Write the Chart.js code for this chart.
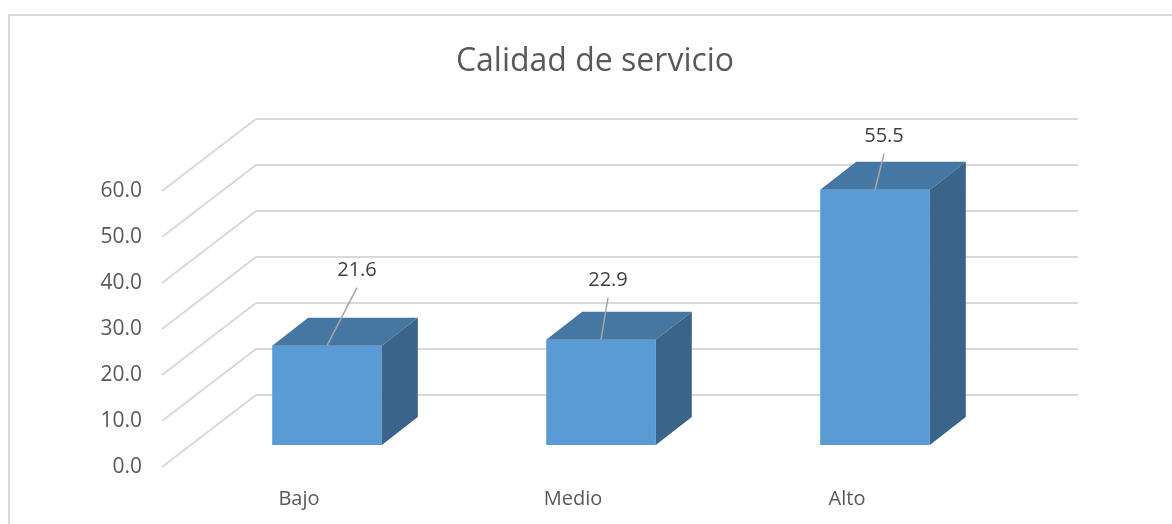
<!DOCTYPE html>
<html>
<head>
<meta charset="utf-8">
<script src="https://cdn.jsdelivr.net/npm/chart.js@4"></script>
<style>
  html, body { margin: 0; padding: 0; background: #ffffff; }
  #wrap { width: 1172px; height: 524px; position: relative; }
</style>
</head>
<body>
<div id="wrap"><canvas id="c" width="1172" height="524"></canvas></div>
<script>
// ---- data ----
const categories = ['Bajo', 'Medio', 'Alto'];
const values = [21.6, 22.9, 55.5];
const yTickValues = [0, 10, 20, 30, 40, 50, 60];
const chartTitle = 'Calidad de servicio';

// ---- 3D look (styles, not data) ----
const FONT = '"Open Sans", "DejaVu Sans", sans-serif';
const depth3d = {
  id: 'depth3d',
  afterLayout(chart, args, o) {
    const t = chart.titleBlock;
    if (t) {
      t.left = chart.chartArea.left - o.titleLeftExtra;
      t.right = chart.chartArea.right;
      t.width = t.right - t.left;
    }
  },
  beforeDraw(chart, args, o) {
    const ctx = chart.ctx;
    ctx.save();
    ctx.strokeStyle = o.frameColor;
    ctx.lineWidth = 2;
    ctx.beginPath();
    ctx.moveTo(9, chart.height);
    ctx.lineTo(9, 15);
    ctx.lineTo(chart.width, 15);
    ctx.stroke();
    ctx.restore();
  },
  beforeDatasetsDraw(chart, args, o) {
    const { ctx, chartArea, scales } = chart;
    const y = scales.y;
    ctx.save();
    ctx.strokeStyle = o.gridColor;
    ctx.lineWidth = 2;
    y.ticks.forEach(t => {
      const py = y.getPixelForValue(t.value);
      ctx.beginPath();
      ctx.moveTo(chartArea.left - o.front.dx, py + o.front.dy);
      ctx.lineTo(chartArea.left + o.back.dx, py - o.back.dy);
      ctx.lineTo(chartArea.right + o.back.dx, py - o.back.dy);
      ctx.stroke();
    });
    ctx.restore();
  },
  afterDatasetsDraw(chart, args, o) {
    const ctx = chart.ctx;
    const meta = chart.getDatasetMeta(0);
    const data = chart.data.datasets[0].data;
    ctx.save();
    meta.data.forEach((bar, i) => {
      const p = bar.getProps(['x', 'y', 'base', 'width'], true);
      const l = p.x - p.width / 2, r = p.x + p.width / 2;
      const dx = o.bar.dx, dy = o.bar.dy;
      // top face
      ctx.fillStyle = o.topColor;
      ctx.beginPath();
      ctx.moveTo(l, p.y); ctx.lineTo(r, p.y);
      ctx.lineTo(r + dx, p.y - dy); ctx.lineTo(l + dx, p.y - dy);
      ctx.closePath(); ctx.fill();
      // side face
      ctx.fillStyle = o.sideColor;
      ctx.beginPath();
      ctx.moveTo(r, p.y); ctx.lineTo(r + dx, p.y - dy);
      ctx.lineTo(r + dx, p.base - dy); ctx.lineTo(r, p.base);
      ctx.closePath(); ctx.fill();
      // leader line
      const lo = o.leaders[i] || { dx: 0, dy: -30 };
      ctx.strokeStyle = o.leaderColor;
      ctx.lineWidth = 1.5;
      ctx.beginPath();
      ctx.moveTo(p.x, p.y);
      ctx.lineTo(p.x + lo.dx, p.y + lo.dy);
      ctx.stroke();
      // value label
      ctx.fillStyle = o.labelColor;
      ctx.font = '20px ' + FONT;
      ctx.textAlign = 'center';
      ctx.textBaseline = 'middle';
      ctx.fillText(Number(data[i]).toFixed(1), p.x + lo.dx, p.y + lo.dy - o.labelGap);
    });
    ctx.restore();
  }
};

new Chart(document.getElementById('c'), {
  type: 'bar',
  data: {
    labels: categories,
    datasets: [{
      data: values,
      backgroundColor: '#5b9bd5',
      borderWidth: 0,
      barPercentage: 0.4,
      categoryPercentage: 1.0
    }]
  },
  options: {
    responsive: false,
    animation: false,
    layout: { padding: { left: 90, right: 160, top: 0, bottom: 0 } },
    plugins: {
      legend: { display: false },
      tooltip: { enabled: false },
      title: {
        display: true,
        text: chartTitle,
        color: '#595959',
        font: { family: FONT, size: 32, weight: 'normal', lineHeight: 1.2 },
        padding: { top: 43, bottom: 87.6 }
      },
      depth3d: {
        titleLeftExtra: 12,
        frameColor: '#d9d9d9',
        gridColor: '#d9d9d9',
        front: { dx: 28, dy: 22 },
        back: { dx: 66, dy: 50 },
        bar: { dx: 36, dy: 28 },
        topColor: '#4677a2',
        sideColor: '#3a6489',
        leaderColor: '#a6a6a6',
        labelColor: '#404040',
        labelGap: 17,
        leaders: [{ dx: 30, dy: -58 }, { dx: 7, dy: -42 }, { dx: 9, dy: -36 }]
      }
    },
    scales: {
      x: {
        grid: { display: false, drawTicks: false },
        border: { display: false },
        ticks: {
          color: '#595959',
          font: { family: FONT, size: 20 },
          padding: 42,
          labelOffset: -28,
          maxRotation: 0
        },
        afterFit(scale) { scale.height = 79; }
      },
      y: {
        min: 0,
        max: 60,
        grid: { display: false, drawTicks: false },
        border: { display: false },
        afterBuildTicks(scale) { scale.ticks = yTickValues.map(v => ({ value: v })); },
        ticks: {
          color: '#595959',
          font: { family: FONT, size: 21 },
          padding: 48,
          labelOffset: 22,
          callback: v => Number(v).toFixed(1)
        },
        afterFit(scale) { scale.width = 100; }
      }
    }
  },
  plugins: [depth3d]
});
</script>
</body>
</html>
